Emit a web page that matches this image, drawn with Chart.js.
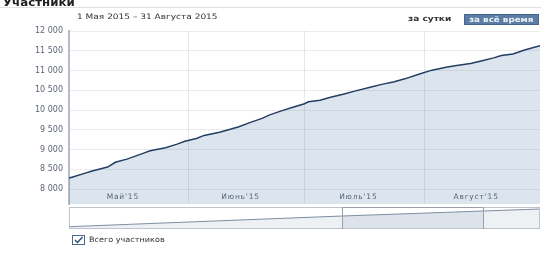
<!DOCTYPE html>
<html>
<head>
<meta charset="utf-8">
<script src="https://cdn.jsdelivr.net/npm/chart.js@4.4.1/dist/chart.umd.min.js"></script>
<style>
  body { margin: 0; background: #fff; font-family: "DejaVu Sans", sans-serif; }
  #wrap { position: relative; width: 557px; height: 258px; overflow: hidden; }
  .abs { position: absolute; white-space: nowrap; transform-origin: left top; }
  #title { left: 3px; top: -2px; font-size: 10px; line-height: 10px; font-weight: bold; color: #222; transform: scaleX(1.18); }
  #rule { left: 0; top: 7px; width: 541px; height: 1px; background: #dde2e8; }
  #period { left: 77px; top: 13px; font-size: 7.5px; line-height: 8px; color: #333; transform: scaleX(1.2); }
  #day { left: 408px; top: 15px; font-size: 7.5px; line-height: 8px; font-weight: bold; color: #333; transform: scaleX(1.2); }
  #all { left: 464px; top: 14px; width: 73px; height: 9px; background: #5b7da3; border: 1px solid #44668c;
         font-size: 7.5px; line-height: 9px; font-weight: bold; color: #eef3f8; }
  #all span { display: inline-block; margin-left: 4px; transform: scaleX(1.17); transform-origin: left top; }
  #box { left: 72px; top: 235px; width: 11px; height: 8px; border: 1px solid #4a6b90; background: #fff; }
  #box svg { display: block; }
  #legend { left: 89px; top: 236px; font-size: 7.5px; line-height: 8px; color: #333; transform: scaleX(1.08); }
  #main { left: 0; top: 0; width: 557px; height: 215px; }
  #nav { left: 0; top: 205px; width: 557px; height: 26px; }
</style>
</head>
<body>
<div id="wrap">
  <div class="abs" id="main"><canvas id="mainChart"></canvas></div>
  <div class="abs" id="nav"><canvas id="navChart"></canvas></div>
  <div class="abs" id="title">Участники</div>
  <div class="abs" id="rule"></div>
  <div class="abs" id="period">1 Мая 2015 – 31 Августа 2015</div>
  <div class="abs" id="day">за сутки</div>
  <div class="abs" id="all"><span>за всё время</span></div>
  <div class="abs" id="box">
    <svg width="11" height="8" viewBox="0 0 11 8"><path d="M2 4 L4.5 6.5 L9.5 1" stroke="#2c4a6e" stroke-width="1.4" fill="none"/></svg>
  </div>
  <div class="abs" id="legend">Всего участников</div>
</div>
<script>
// day 0 = 1 May 2015
const days = [0, 1, 4, 6, 8, 10, 12, 15, 19, 21, 25, 28, 30, 33, 35, 39, 42, 44, 47, 50, 52, 55, 58, 61, 62,
              65, 68, 71, 74, 78, 81, 84, 87, 91, 94, 98, 100, 104, 107, 110, 112, 115, 118, 122];
const members = [8280, 8310, 8400, 8460, 8510, 8560, 8680, 8760, 8900, 8970, 9050, 9140, 9210, 9280, 9360,
                 9440, 9520, 9580, 9690, 9790, 9880, 9980, 10070, 10160, 10210, 10250, 10330, 10400, 10480,
                 10580, 10650, 10710, 10790, 10920, 11010, 11090, 11120, 11180, 11250, 11320, 11380, 11420,
                 11520, 11630];
const monthLabels = ["Май'15", "Июнь'15", "Июль'15", "Август'15"];
const monthStarts = [0, 31, 61, 92, 122];
const yTicks = [8000, 8500, 9000, 9500, 10000, 10500, 11000, 11500, 12000];

// navigator (overview of whole history)
const navPos = [0, 58, 88, 100];
const navMembers = [1340, 7560, 10470, 11630];
const navWindow = [58, 88];

const fmt = v => String(v).replace(/\B(?=(\d{3})+(?!\d))/g, ' ');

const monthText = {
    id: 'monthText',
    afterDatasetsDraw(chart) {
        const { ctx, scales: { x }, chartArea } = chart;
        ctx.save();
        ctx.font = '7.5px "DejaVu Sans"';
        ctx.fillStyle = '#55667c';
        ctx.textAlign = 'center';
        ctx.textBaseline = 'middle';
        if ('letterSpacing' in ctx) ctx.letterSpacing = '0.8px';
        for (let i = 0; i < monthLabels.length; i++) {
            const mid = (monthStarts[i] + monthStarts[i + 1]) / 2;
            ctx.fillText(monthLabels[i], x.getPixelForValue(mid) - 6, chartArea.bottom - 7.5);
        }
        ctx.restore();
    }
};

new Chart(document.getElementById('mainChart'), {
    type: 'line',
    data: {
        datasets: [{
            data: days.map((d, i) => ({ x: d, y: members[i] })),
            borderColor: '#233e63',
            borderWidth: 1.5,
            backgroundColor: 'rgba(80, 120, 165, 0.2)',
            fill: 'start',
            pointRadius: 0,
            tension: 0
        }]
    },
    options: {
        responsive: true,
        maintainAspectRatio: false,
        animation: false,
        layout: { padding: { top: 31, right: 17, bottom: 8, left: 0 } },
        plugins: { legend: { display: false }, tooltip: { enabled: false } },
        scales: {
            x: {
                type: 'linear',
                min: 0,
                max: 122,
                afterBuildTicks: s => { s.ticks = monthStarts.slice(1, -1).map(v => ({ value: v })); },
                ticks: { display: false },
                grid: { color: 'rgba(0, 0, 0, 0.09)', drawTicks: false },
                border: { display: false }
            },
            y: {
                min: 7620,
                max: 12000,
                afterBuildTicks: s => { s.ticks = yTicks.map(v => ({ value: v })); },
                afterFit: s => { s.width = 69; },
                ticks: {
                    padding: 6,
                    color: '#5b6573',
                    font: { family: 'DejaVu Sans', size: 8 },
                    callback: v => fmt(v)
                },
                grid: { color: 'rgba(0, 0, 0, 0.08)', drawTicks: false },
                border: { color: '#b3bbc6', width: 2 }
            }
        }
    },
    plugins: [monthText]
});

const navFrame = {
    id: 'navFrame',
    afterDatasetsDraw(chart) {
        const { ctx, scales: { x }, chartArea: a } = chart;
        ctx.save();
        ctx.strokeStyle = '#bcc4ce';
        ctx.lineWidth = 1;
        ctx.strokeRect(a.left + 0.5, a.top + 0.5, a.right - a.left - 1, a.bottom - a.top - 1);
        const l = Math.round(x.getPixelForValue(navWindow[0])) + 0.5;
        const r = Math.round(x.getPixelForValue(navWindow[1])) + 0.5;
        ctx.strokeStyle = '#96a1ae';
        ctx.beginPath();
        ctx.moveTo(l, a.bottom);
        ctx.lineTo(l, a.top + 0.5);
        ctx.lineTo(r, a.top + 0.5);
        ctx.lineTo(r, a.bottom);
        ctx.stroke();
        ctx.restore();
    }
};

new Chart(document.getElementById('navChart'), {
    type: 'line',
    data: {
        datasets: [{
            data: navPos.map((p, i) => ({ x: p, y: navMembers[i] })),
            borderColor: '#7f8ea2',
            borderWidth: 1,
            backgroundColor: '#eef1f4',
            fill: 'start',
            pointRadius: 0,
            segment: {
                backgroundColor: c => c.p0DataIndex === 1 ? '#dce3ea' : '#eef1f4'
            }
        }]
    },
    options: {
        responsive: true,
        maintainAspectRatio: false,
        animation: false,
        layout: { padding: { top: 2, right: 17, bottom: 2, left: 69 } },
        plugins: { legend: { display: false }, tooltip: { enabled: false } },
        scales: {
            x: { type: 'linear', min: 0, max: 100, display: false },
            y: { min: 0, max: 12800, display: false }
        }
    },
    plugins: [navFrame]
});
</script>
</body>
</html>
